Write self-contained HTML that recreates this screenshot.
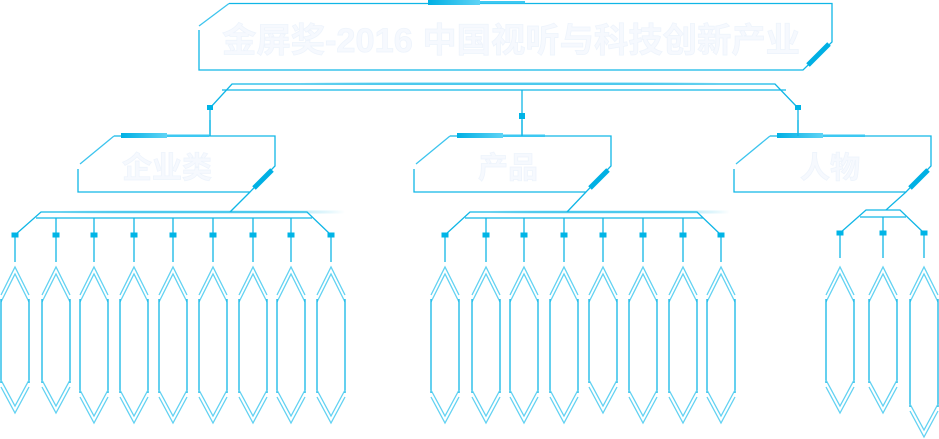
<!DOCTYPE html>
<html><head><meta charset="utf-8"><style>
html,body{margin:0;padding:0;background:#fff;}
svg{display:block}
.t{font-family:"Liberation Sans","Noto Sans CJK SC",sans-serif;font-weight:bold;fill:#f6f9fe;stroke:#eef4fc;stroke-width:0.8}
</style></head><body>
<svg id="s" width="939" height="439" viewBox="0 0 939 439" xmlns="http://www.w3.org/2000/svg">
<defs>
<linearGradient id="gl" x1="0" x2="1" y1="0" y2="0">
<stop offset="0" stop-color="#00b4e6" stop-opacity="0"/>
<stop offset="0.3" stop-color="#7fd8f3" stop-opacity="0.6"/>
<stop offset="0.7" stop-color="#7fd8f3" stop-opacity="0.6"/>
<stop offset="1" stop-color="#00b4e6" stop-opacity="0"/>
</linearGradient>
<linearGradient id="acc" x1="0" x2="1"><stop offset="0" stop-color="#00b0e4"/><stop offset="1" stop-color="#5fd3f5"/></linearGradient>
</defs>
<g fill="none" stroke="#10b6e6" stroke-width="1.3">
<polyline points="229,3.5 832,3.5 832,42 803,70 199,70 199,30"/>
<line x1="229" y1="3.5" x2="199" y2="26" stroke="#3cc4ee"/>
<line x1="808" y1="65" x2="829" y2="44" stroke="#00b0e4" stroke-width="5"/>
<rect x="300" y="82" width="420" height="3" fill="url(#gl)" stroke="none"/>
<polyline points="210,108 232,84 775,84 798,108"/>
<line x1="222" y1="90" x2="786" y2="90"/>
<line x1="522" y1="90" x2="522" y2="116"/>
<line x1="210" y1="108" x2="210" y2="136"/>
<line x1="798" y1="108" x2="798" y2="136"/>
<line x1="522" y1="116" x2="522" y2="136"/>
</g>
<g fill="#00b4e6">
<rect x="207" y="105" width="6" height="5"/><rect x="519" y="113" width="6" height="6"/><rect x="795" y="105" width="6" height="5"/>
<rect x="428" y="0" width="52" height="5" fill="url(#acc)"/><rect x="480" y="1" width="45" height="2.5" fill="#3cc8f2"/>
</g>
<text class="t" x="222" y="52" font-size="34" textLength="578" lengthAdjust="spacingAndGlyphs">金屏奖-2016 中国视听与科技创新产业</text>
<text class="t" x="122" y="178" font-size="30">企业类</text>
<text class="t" x="478" y="178" font-size="30">产品</text>
<text class="t" x="800" y="178" font-size="30">人物</text>
<g id="dyn"></g>
</svg>
<script>
var ns="http://www.w3.org/2000/svg",g=document.getElementById("dyn");
function el(n,a){var e=document.createElementNS(ns,n);for(var k in a)e.setAttribute(k,a[k]);g.appendChild(e);return e;}
var C="#10b6e6",L="#62d2f2";
function line(x1,y1,x2,y2,c,w){el("line",{x1:x1,y1:y1,x2:x2,y2:y2,stroke:c||C,"stroke-width":w||1.3});}
function pl(p,c){el("polyline",{points:p,fill:"none",stroke:c||C,"stroke-width":1.3});}
function box(l,r,acc,conn){
  pl((l+36)+",136 "+r+",136 "+r+",166 "+(r-25)+",192 "+l+",192 "+l+",169");
  line(l+36,136,l+2,164,"#3cc4ee");
  line(r-21,188,r-3,170,"#00b0e4",5);
  el("rect",{x:acc,y:133,width:46,height:5,fill:"url(#acc)"});
  el("rect",{x:acc+46,y:134.5,width:42,height:2.5,fill:"#3cc8f2"});
  line(conn,120,conn,136);
}
function pillar(cx,bot){
  var h=14;
  pl((cx-h)+",295 "+cx+",267 "+(cx+h)+",295",L);
  pl((cx-h)+",302 "+cx+",274 "+(cx+h)+",302",L);
  line(cx-h,299,cx-h,bot);line(cx+h,299,cx+h,bot);
  pl((cx-h)+","+(bot+4)+" "+cx+","+(bot+30)+" "+(cx+h)+","+(bot+4),L);
  pl((cx-h)+","+(bot-3)+" "+cx+","+(bot+23)+" "+(cx+h)+","+(bot-3),L);
}
function group(xs,bots,x1,x2,y0,sqy,topstart,topend,glowEnd,from){
  el("rect",{x:topstart+20,y:y0-1.5,width:glowEnd-topstart-20,height:3,fill:"url(#gl)"});
  pl(xs[0]+","+sqy+" "+topstart+","+y0+" "+topend+","+y0+" "+xs[xs.length-1]+","+sqy);
  line(x1,y0+6,x2,y0+6);
  line(from[0],from[1],from[2],y0);
  for(var i=0;i<xs.length;i++){
    if(i>0&&i<xs.length-1)line(xs[i],y0+6,xs[i],sqy);
    line(xs[i],sqy,xs[i],sqy+27);
    el("rect",{x:xs[i]-3.5,y:sqy-2.5,width:7,height:5,fill:"#00b4e6"});
    pillar(xs[i],bots[i]);
  }
}
box(78,275,121,210);box(414,611,457,522);box(734,931,777,798);
group([15,56,94,134,173,213,253,291,331],[383,383,393,393,393,393,393,393,393],36,312,212,235,41,307,345,[250,192,230]);
group([445,486,524,564,603,643,683,721],[393,393,393,393,383,393,393,393],465,703,212,235,470,697,730,[586,192,567]);
pl("840,233 866,210 900,210 924,233");
line(860,217,906,217);
line(906,192,886,210);
line(883,217,883,233);
[[840,383],[883,383],[924,407]].forEach(function(p){
  line(p[0],233,p[0],258);
  el("rect",{x:p[0]-3.5,y:230.5,width:7,height:5,fill:"#00b4e6"});
  pillar(p[0],p[1]);
});
</script>
</body></html>
